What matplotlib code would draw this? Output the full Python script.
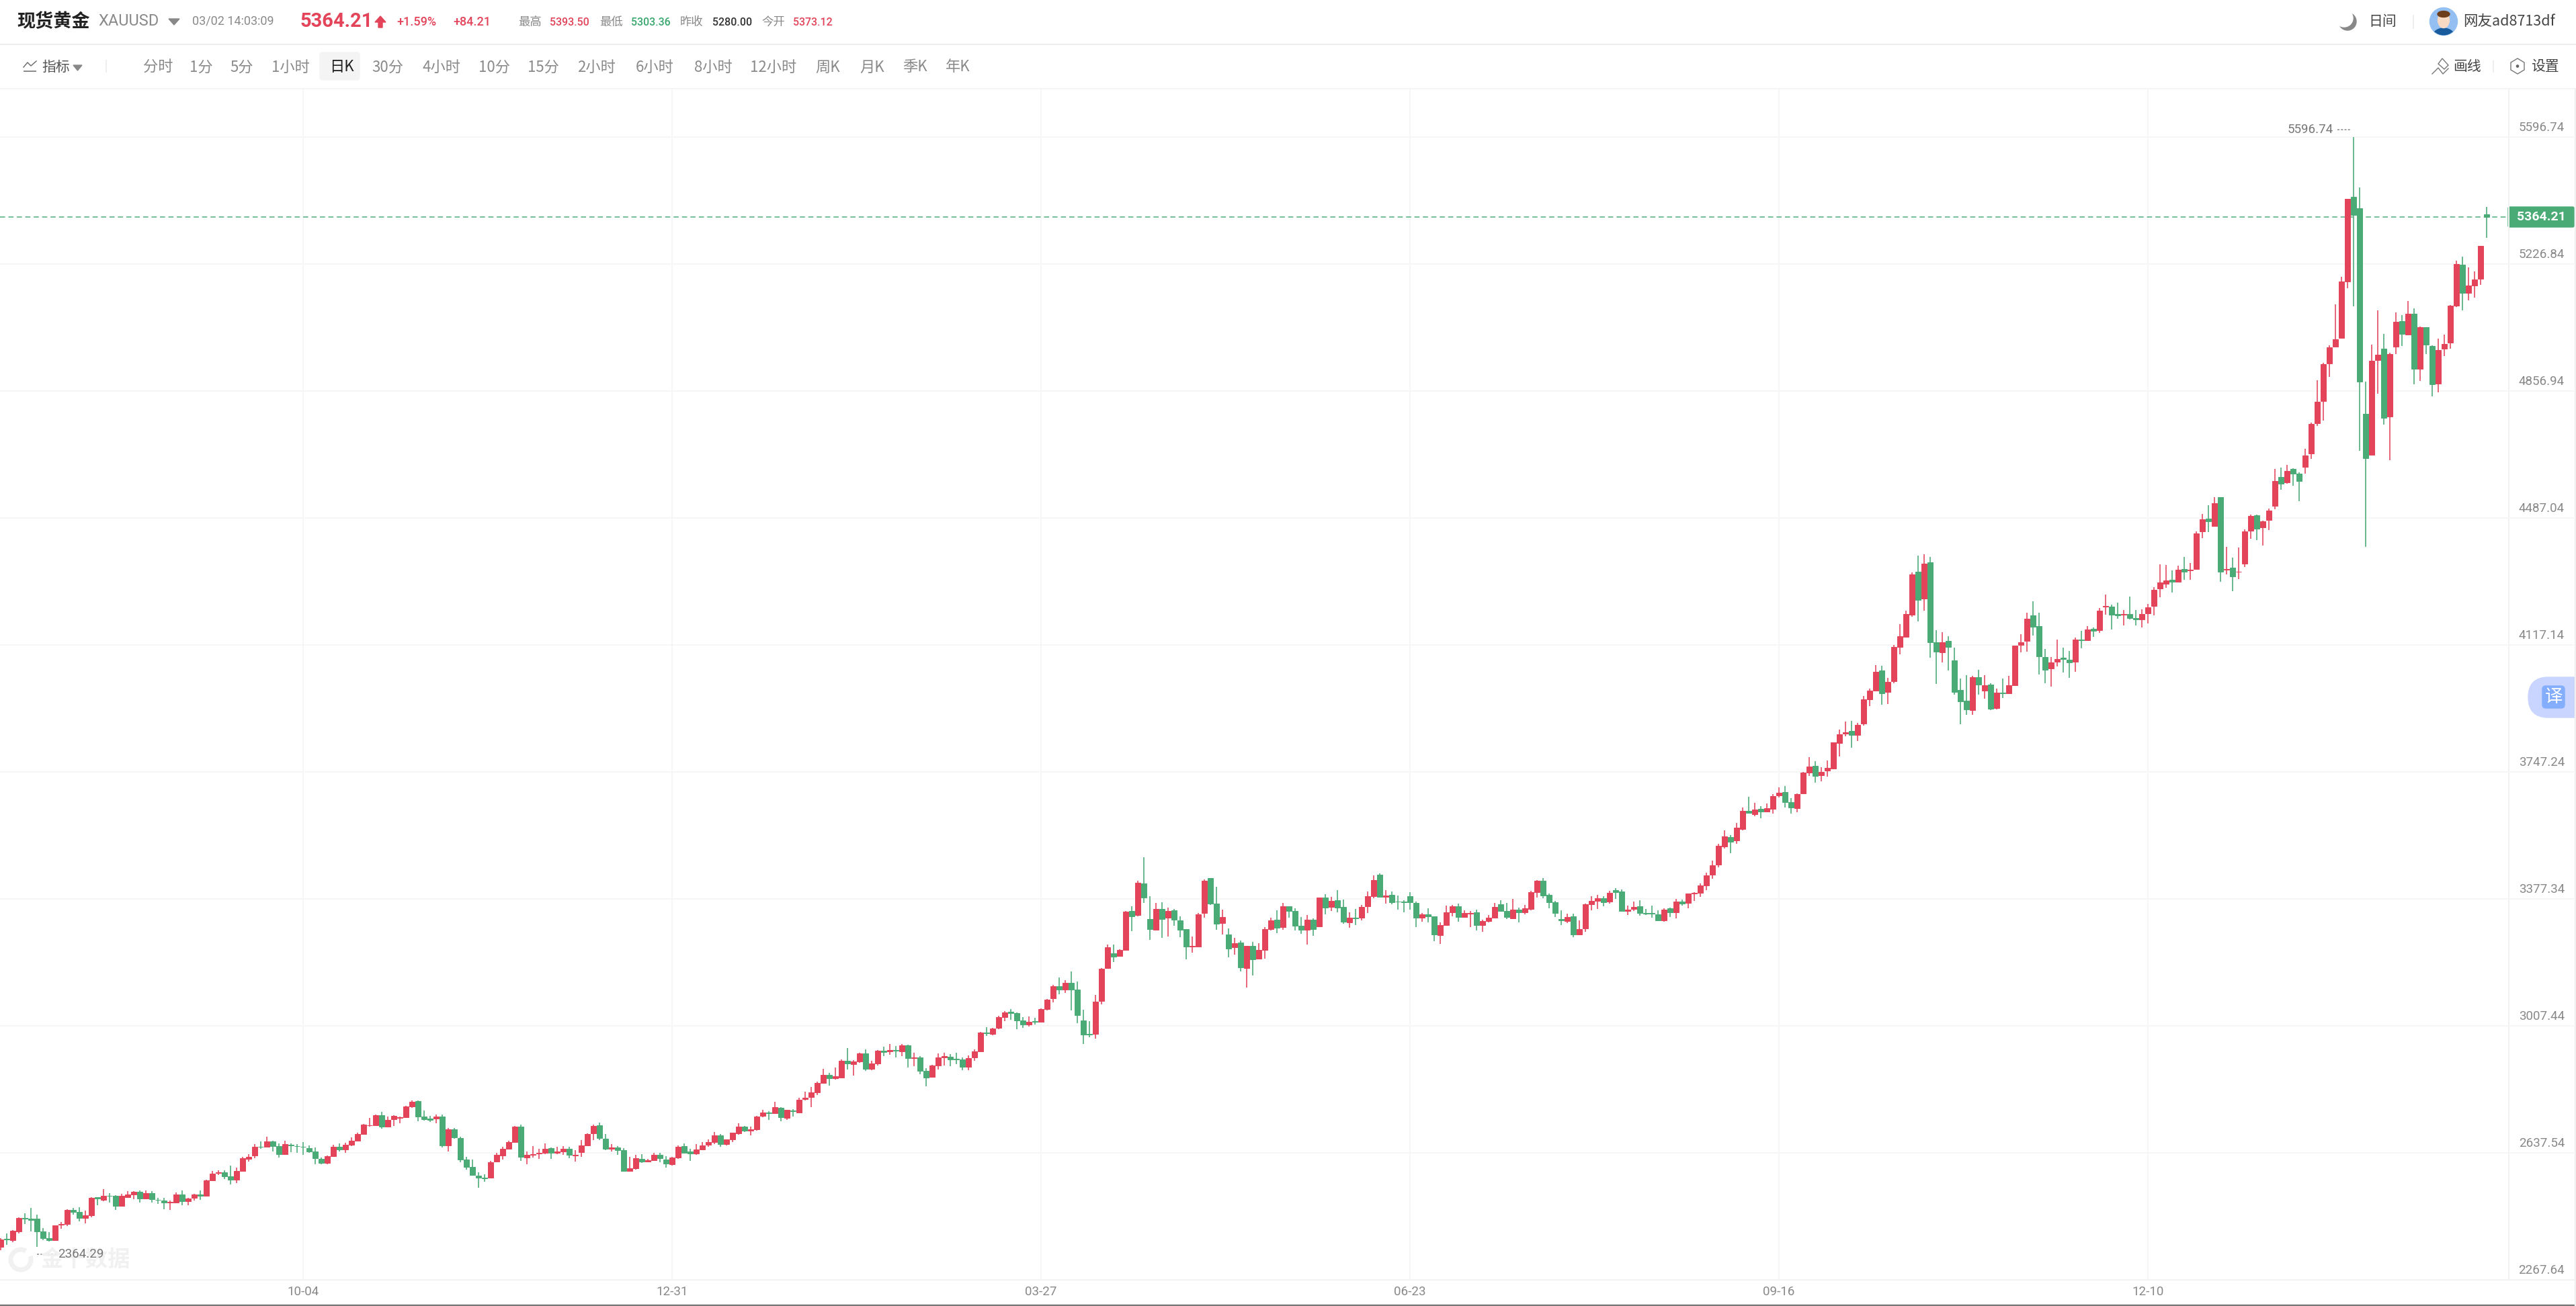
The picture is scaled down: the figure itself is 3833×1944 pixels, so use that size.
import matplotlib
matplotlib.use("Agg")
from matplotlib import pyplot as plt
from matplotlib.patches import Arc, Circle, Ellipse, FancyBboxPatch, Polygon, Rectangle

plt.rcParams['font.family'] = ['Noto Sans CJK SC', 'DejaVu Sans']

W, H = 3833, 1944

# daily candles (red = close above open)
opens = [
    2364,2387,2384,2410,2448,2446,2447,2409,2390,2383,
    2428,2430,2472,2465,2448,2456,2508,2502,2513,2512,
    2484,2508,2517,2524,2505,2520,2502,2499,2493,2494,
    2516,2497,2507,2516,2512,2558,2580,2581,2569,2559,
    2586,2621,2630,2656,2656,2671,2658,2634,2662,2658,
    2656,2652,2642,2621,2608,2628,2655,2648,2662,2673,
    2693,2718,2719,2748,2715,2736,2739,2742,2774,2788,
    2743,2737,2737,2744,2660,2706,2681,2619,2598,2572,
    2565,2565,2612,2631,2650,2669,2714,2625,2632,2637,
    2638,2652,2639,2643,2649,2630,2641,2660,2694,2718,
    2680,2649,2653,2645,2585,2594,2620,2613,2616,2632,
    2619,2605,2625,2658,2642,2637,2648,2661,2670,2689,
    2664,2677,2694,2714,2703,2707,2745,2756,2754,2769,
    2740,2762,2755,2794,2801,2814,2841,2866,2856,2857,
    2907,2897,2904,2928,2883,2898,2936,2933,2937,2934,
    2952,2914,2916,2877,2860,2892,2917,2918,2912,2911,
    2888,2916,2933,2989,2985,3002,3034,3049,3045,3023,
    3011,3021,3020,3056,3088,3124,3114,3133,3114,3023,
    2985,2984,3081,3177,3219,3212,3230,3343,3331,3423,
    3320,3288,3349,3324,3344,3315,3289,3238,3239,3337,
    3438,3364,3307,3275,3237,3250,3177,3240,3204,3229,
    3290,3317,3296,3356,3342,3300,3287,3318,3298,3382,
    3354,3374,3354,3310,3324,3324,3357,3386,3448,3384,
    3389,3371,3370,3385,3367,3324,3332,3327,3272,3302,
    3339,3356,3326,3335,3338,3301,3314,3324,3363,3343,
    3322,3347,3339,3349,3398,3431,3389,3368,3320,3314,
    3327,3275,3291,3363,3372,3380,3370,3404,3399,3343,
    3349,3357,3336,3337,3333,3316,3350,3338,3371,3366,
    3394,3395,3417,3449,3478,3531,3558,3548,3582,3635,
    3625,3641,3632,3641,3679,3690,3659,3643,3685,3746,
    3765,3738,3751,3758,3832,3859,3868,3856,3888,3960,
    3984,4043,3980,4013,4111,4142,4206,4332,4253,4358,
    4126,4097,4129,4072,3987,3955,3927,4023,3985,4002,
    3934,3978,3976,4000,4117,4130,4203,4172,4083,4049,
    4069,4080,4075,4069,4134,4132,4164,4160,4230,4229,
    4207,4205,4207,4196,4192,4210,4231,4283,4296,4307,
    4302,4338,4334,4338,4448,4486,4465,4548,4337,4342,
    4331,4354,4450,4495,4460,4482,4523,4607,4591,4631,
    4616,4637,4676,4763,4829,4937,4986,5012,5177,5424,
    5390,4791,4671,4947,4981,4784,4986,5061,5021,5083,
    4923,5043,4989,4880,4980,4998,5107,5226,5143,5164,
    5185,5373.12,
]
highs = [
    2390,2403,2413,2450,2462,2477,2458,2418,2407,2427,
    2436,2473,2477,2479,2469,2508,2509,2532,2520,2514,
    2518,2526,2526,2528,2529,2526,2507,2507,2500,2523,
    2529,2507,2518,2528,2559,2586,2588,2587,2600,2595,
    2626,2634,2663,2671,2685,2674,2665,2673,2665,2663,
    2669,2660,2653,2625,2631,2661,2666,2667,2684,2697,
    2722,2740,2749,2758,2743,2748,2744,2775,2790,2790,
    2762,2746,2750,2750,2710,2711,2685,2626,2618,2581,
    2575,2614,2639,2655,2673,2716,2721,2642,2658,2650,
    2666,2653,2656,2658,2655,2645,2676,2695,2720,2726,
    2693,2664,2658,2652,2626,2632,2634,2621,2639,2638,
    2628,2627,2660,2665,2649,2664,2669,2678,2698,2693,
    2678,2697,2724,2717,2714,2746,2763,2759,2786,2772,
    2764,2765,2798,2817,2829,2845,2882,2872,2887,2911,
    2943,2908,2929,2939,2906,2937,2947,2955,2949,2956,
    2953,2929,2920,2885,2894,2928,2930,2926,2930,2917,
    2922,2939,2990,3004,3002,3038,3051,3057,3047,3034,
    3035,3031,3059,3086,3127,3148,3142,3167,3137,3055,
    3022,3099,3176,3245,3245,3232,3343,3357,3430,3499,
    3386,3367,3369,3352,3348,3327,3289,3268,3337,3434,
    3438,3414,3347,3292,3265,3257,3241,3252,3249,3295,
    3324,3345,3366,3357,3350,3325,3330,3322,3382,3392,
    3384,3403,3376,3338,3348,3360,3399,3446,3452,3403,
    3399,3388,3374,3397,3370,3337,3350,3328,3309,3358,
    3360,3365,3344,3343,3346,3317,3330,3367,3374,3366,
    3377,3352,3360,3401,3433,3438,3393,3373,3344,3334,
    3334,3315,3364,3386,3390,3385,3401,3409,3405,3358,
    3370,3374,3349,3358,3345,3350,3352,3378,3376,3394,
    3398,3423,3454,3489,3539,3578,3563,3599,3645,3675,
    3657,3648,3655,3684,3702,3707,3672,3685,3748,3790,
    3779,3761,3782,3834,3871,3894,3896,3891,3969,3990,
    4059,4057,4022,4117,4179,4217,4330,4379,4381,4375,
    4160,4154,4144,4109,4019,4030,4027,4045,4030,4006,
    3990,4019,4027,4116,4149,4212,4244,4211,4106,4082,
    4133,4109,4100,4139,4159,4173,4169,4226,4265,4235,
    4241,4219,4259,4219,4221,4238,4286,4353,4350,4335,
    4348,4374,4356,4448,4499,4525,4549,4549,4403,4372,
    4401,4455,4497,4498,4480,4515,4630,4634,4642,4633,
    4620,4690,4765,4888,4940,4990,5110,5190,5418,5596.74,
    5451,4884,4992,5092,5024,4970,5087,5079,5119,5099,
    5045,5044,4991,5010,5022,5108,5237,5249,5217,5205,
    5280,5393.5,
]
lows = [
    2355,2370,2377,2404,2430,2410,2364.29,2383,2379,2381,
    2417,2424,2459,2438,2432,2451,2486,2497,2493,2471,
    2484,2507,2504,2493,2503,2493,2490,2473,2472,2493,
    2485,2486,2500,2501,2510,2557,2574,2561,2547,2551,
    2584,2613,2623,2649,2653,2642,2625,2632,2640,2639,
    2632,2638,2604,2605,2605,2627,2643,2638,2658,2672,
    2692,2714,2718,2709,2714,2716,2724,2739,2770,2731,
    2733,2729,2725,2653,2643,2680,2610,2589,2572,2536,
    2554,2564,2610,2619,2649,2668,2615,2605,2625,2621,
    2634,2621,2634,2632,2623,2613,2626,2658,2675,2675,
    2646,2643,2632,2584,2583,2589,2608,2610,2615,2611,
    2595,2601,2621,2636,2614,2633,2645,2655,2664,2656,
    2659,2669,2690,2699,2689,2703,2741,2735,2753,2730,
    2735,2744,2754,2791,2771,2807,2839,2834,2852,2855,
    2881,2863,2900,2877,2878,2892,2919,2924,2916,2920,
    2887,2890,2867,2832,2858,2881,2893,2891,2896,2879,
    2879,2906,2931,2978,2981,2998,3022,3025,2998,3002,
    3007,3012,3017,3053,3077,3100,3104,3053,3015,2956,
    2974,2970,3071,3175,3193,3210,3229,3284,3328,3366,
    3259,3287,3265,3268,3299,3267,3202,3222,3238,3323,
    3360,3288,3275,3208,3215,3167,3120,3154,3202,3204,
    3285,3279,3287,3323,3285,3277,3245,3270,3295,3333,
    3343,3339,3306,3293,3302,3315,3337,3379,3382,3365,
    3362,3347,3339,3347,3295,3311,3309,3255,3247,3300,
    3327,3311,3324,3296,3286,3282,3309,3322,3340,3319,
    3320,3309,3332,3345,3382,3380,3351,3325,3302,3308,
    3267,3273,3282,3345,3349,3357,3364,3378,3341,3330,
    3342,3329,3331,3323,3313,3311,3325,3321,3359,3351,
    3373,3384,3403,3437,3470,3525,3511,3539,3577,3626,
    3619,3613,3630,3626,3673,3645,3627,3631,3684,3736,
    3716,3721,3734,3758,3793,3852,3818,3837,3883,3939,
    3982,3943,3946,4007,4090,4140,4199,4186,4218,4081,
    4005,4066,4044,3972,3886,3915,3915,3972,3961,3928,
    3929,3963,3974,3999,4097,4098,4145,4032,4006,3997,
    4055,4038,4022,4040,4108,4130,4141,4153,4205,4163,
    4194,4175,4192,4175,4169,4181,4204,4257,4284,4270,
    4301,4308,4308,4337,4429,4447,4464,4302,4323,4274,
    4310,4345,4427,4424,4408,4453,4514,4570,4588,4581,
    4537,4616,4659,4756,4772,4899,4986,5011,5157,5105,
    4683,4402.5,4670,4850,4759,4655,4965,4988,5019,4878,
    4887,4965,4842,4853,4960,4981,5102,5092,5121,5130,
    5166,5303.36,
]
closes = [
    2386,2385,2411,2448,2447,2442,2409,2390,2383,2426,
    2431,2472,2465,2448,2456,2507,2505,2513,2512,2484,
    2512,2517,2524,2505,2520,2503,2501,2493,2495,2516,
    2498,2505,2516,2512,2558,2578,2582,2570,2559,2586,
    2622,2627,2655,2655,2671,2658,2634,2663,2659,2657,
    2655,2642,2622,2608,2629,2656,2648,2662,2673,2692,
    2721,2719,2748,2715,2735,2746,2742,2774,2786,2744,
    2736,2735,2744,2659,2707,2684,2619,2598,2573,2565,
    2563,2611,2632,2649,2669,2714,2626,2632,2635,2638,
    2649,2639,2643,2649,2632,2632,2660,2693,2716,2681,
    2649,2653,2646,2585,2593,2622,2613,2617,2633,2623,
    2606,2625,2656,2639,2637,2647,2660,2669,2689,2664,
    2677,2696,2714,2703,2707,2744,2755,2754,2771,2741,
    2763,2759,2792,2798,2814,2842,2866,2856,2861,2907,
    2898,2904,2928,2883,2898,2935,2932,2938,2936,2952,
    2915,2916,2877,2858,2892,2917,2919,2911,2911,2888,
    2915,2933,2988,2986,3001,3034,3047,3045,3023,3012,
    3020,3019,3056,3084,3124,3114,3133,3114,3039,2983,
    2983,3079,3175,3237,3210,3229,3341,3328,3424,3382,
    3289,3348,3319,3343,3317,3288,3238,3240,3333,3430,
    3364,3306,3326,3234,3249,3178,3240,3202,3229,3289,
    3315,3294,3356,3342,3300,3287,3317,3289,3381,3353,
    3373,3352,3312,3324,3322,3354,3385,3432,3384,3388,
    3368,3370,3369,3369,3323,3332,3328,3274,3302,3338,
    3356,3326,3336,3337,3302,3313,3323,3354,3342,3325,
    3346,3339,3350,3397,3431,3387,3368,3337,3315,3325,
    3275,3289,3362,3373,3380,3369,3396,3398,3342,3347,
    3355,3336,3335,3334,3315,3347,3338,3371,3365,3393,
    3396,3417,3447,3475,3533,3559,3545,3585,3634,3628,
    3639,3633,3642,3678,3688,3659,3644,3684,3746,3763,
    3736,3748,3759,3833,3857,3864,3856,3885,3960,3985,
    4040,3976,4010,4111,4143,4208,4323,4248,4355,4126,
    4098,4125,4112,3981,3953,3929,4024,4003,4000,3932,
    3978,3977,4000,4115,4126,4194,4171,4085,4046,4067,
    4077,4077,4066,4133,4131,4163,4158,4217,4231,4206,
    4203,4208,4196,4192,4208,4227,4279,4299,4305,4302,
    4337,4332,4337,4443,4484,4478,4531,4331,4339,4318,
    4332,4448,4493,4456,4477,4509,4595,4587,4625,4616,
    4596,4670,4762,4827,4936,4985,5008,5177,5417,5371,
    4884,4661,4945,4964,4780,4965,5059,5023,5083,4923,
    5043,4992,4878,4976,4994,5107,5227,5144,5164,5183,
    5280,5364.21,
]

price_levels = [5596.74, 5226.84, 4856.94, 4487.04, 4117.14, 3747.24, 3377.34, 3007.44, 2637.54, 2267.64]
date_positions = [50, 111, 172, 233, 294, 355]
date_labels = ['10-04', '12-31', '03-27', '06-23', '09-16', '12-10']
last_price = 5364.21
max_index, max_price = 389, 5596.74
min_index, min_price = 6, 2364.29

quote_items = [('最高', 771, '5393.50', 818, '#e2445a'), ('最低', 892, '5303.36', 939, '#3aa76d'),
               ('昨收', 1012, '5280.00', 1060, '#333333'), ('今开', 1133, '5373.12', 1180, '#e2445a')]
periods = [('分时', 235), ('1分', 299), ('5分', 360), ('1小时', 432), ('日K', 508), ('30分', 577),
           ('4小时', 657), ('10分', 736), ('15分', 808), ('2小时', 888), ('6小时', 974), ('8小时', 1061),
           ('12小时', 1151), ('周K', 1232), ('月K', 1298), ('季K', 1361), ('年K', 1425)]

RED, GREEN = '#e34459', '#4aab76'
RED_WICK, GREEN_WICK = '#e9697c', '#6dba90'
GRID = '#f6f6f6'
NUM_FONT = ['Roboto', 'DejaVu Sans']

fig = plt.figure(figsize=(W / 100, H / 100), dpi=100, facecolor='white')

# page furniture in pixel coordinates, below the chart
ui = fig.add_axes([0, 0, 1, 1], zorder=0)
ui.set_xlim(0, W)
ui.set_ylim(H, 0)
ui.axis('off')


def label(x, y, s, size, color, ha='left', weight='normal', family=None):
    ui.text(x, y, s, fontsize=size, color=color, ha=ha, va='center', fontweight=weight,
            family=family or plt.rcParams['font.family'])


def line(xs, ys, color, lw=1.5, **kw):
    ui.plot(xs, ys, color=color, lw=lw * 0.72, solid_capstyle='butt', **kw)


line([0, W], [65.7, 65.7], '#ececec', 2)
line([0, W], [131.7, 131.7], '#f5f5f5', 2)
line([3732.6, 3732.6], [132, 1905], '#f2f2f2', 2)
line([0, W], [1905.3, 1905.3], '#f0f0f0', 2)
line([0, W], [1943, 1943], '#777777', 2.5)

# header row
label(25, 32, '现货黄金', 19.5, '#222222', weight='bold')
label(146, 32, 'XAUUSD', 17, '#8a8a8a', family=NUM_FONT)
ui.add_patch(Polygon([(251, 28), (267, 28), (259, 37)], color='#888888'))
label(286, 31, '03/02 14:03:09', 13, '#8a8a8a', family=NUM_FONT)
label(446, 32, '5364.21', 21, RED, weight='bold', family=NUM_FONT)
ui.add_patch(Polygon([(566, 24), (574, 33), (569, 33), (569, 41), (563, 41), (563, 33), (558, 33)], color=RED))
label(590, 33, '+1.59%', 13, RED, family=NUM_FONT, weight='medium')
label(674, 33, '+84.21', 13, RED, family=NUM_FONT, weight='medium')
for name, name_x, value, value_x, color in quote_items:
    label(name_x, 33, name, 12.5, '#888888')
    label(value_x, 33, value, 11.5, color, family=NUM_FONT, weight='medium')

label(3524, 32, '日间', 15, '#444444')
ui.add_patch(Circle((3493, 32), 13, color='#888888'))
ui.add_patch(Circle((3488, 27), 13, color='white'))
line([3591, 3591], [22, 43], '#eeeeee', 2)
avatar = Circle((3636, 32), 20.5, color='#93bff2')
ui.add_patch(avatar)
for part in [Ellipse((3636, 56), 34, 28, color='#185c9e'),
             Ellipse((3636, 30), 17, 23, color='#f7d9c4'),
             Ellipse((3636, 21), 18, 9, color='#6e3d1c')]:
    ui.add_patch(part)
    part.set_clip_path(avatar)
label(3665, 32, '网友ad8713df', 15.5, '#444444')

# toolbar row
ui.plot([35, 41, 46, 54], [100, 93, 98, 91], color='#666666', lw=1)
line([35, 54], [106, 106], '#666666', 1.5)
label(62, 100, '指标', 15, '#555555')
ui.add_patch(Polygon([(109, 97), (122, 97), (115.5, 105)], color='#888888'))
line([157.5, 157.5], [89, 108], '#eeeeee', 2)
ui.add_patch(FancyBboxPatch((479, 81), 53, 35, boxstyle='round,pad=3,rounding_size=4', color='#f4f4f4'))
for name, x in periods:
    label(x, 100, name, 16, '#222222' if name == '日K' else '#8a8a8a', ha='center')

ui.plot([3619, 3628, 3635, 3643], [110, 101, 110, 102], color='#777777', lw=1)
ui.add_patch(Polygon([(3628, 95), (3634, 87), (3643, 97), (3637, 103)], fill=False, ec='#777777', lw=1))
label(3650, 99, '画线', 15, '#444444')
line([3710, 3710], [90, 108], '#eeeeee', 2)
ui.add_patch(Polygon([(3746, 87), (3756, 93), (3756, 104), (3746, 110), (3736, 104), (3736, 93)],
                     fill=False, ec='#777777', lw=1))
ui.add_patch(Circle((3746, 98.5), 1.6, color='#666666'))
label(3766, 99, '设置', 15, '#444444')

# watermark
ui.add_patch(Arc((31, 1875), 30, 30, theta1=-20, theta2=300, color='#f1f1f1', lw=5))
label(60, 1875, '金十数据', 24, '#f1f1f1', weight='bold')

# last price tag and translate tab
ui.add_patch(FancyBboxPatch((3734, 310), 94, 26, boxstyle='round,pad=2,rounding_size=2', color=GREEN))
label(3781, 322.5, '5364.21', 14, 'white', ha='center', weight='bold', family=NUM_FONT)
ui.add_patch(FancyBboxPatch((3762, 1008), 120, 60, boxstyle='round,pad=0,rounding_size=30', color='#c9d4ff'))
ui.add_patch(FancyBboxPatch((3785, 1023), 29, 29, boxstyle='round,pad=2,rounding_size=5', color='#84aefc'))
label(3799.5, 1037, '译', 19, 'white', ha='center')
ui.add_patch(Rectangle((3831, 132), 2, H - 132, color='#f0f0f0', zorder=5))

# price chart: 9 px per candle, 369.9 per 189 px
bottom_px, top_px = 1905.3, 132
ax = fig.add_axes([0, (H - bottom_px) / H, 3830 / W, (bottom_px - top_px) / H], zorder=1)
ax.set_xlim(-1 / 9, 3829 / 9)
ax.set_ylim(2267.64, 5596.74 + (204.3 - top_px) * 369.9 / 189)
ax.axis('off')

ax.hlines(price_levels, -1 / 9, 3829 / 9, color=GRID, lw=1.3, zorder=1)
ax.vlines(date_positions, 2267.64, ax.get_ylim()[1], color=GRID, lw=1.3, zorder=1)
ax.hlines(last_price, -1 / 9, 3731 / 9, color='#4fae7f', lw=1.1, linestyles=(0, (5, 3.2)), zorder=1.5)

xs = list(range(len(opens)))
wick_colors = [RED_WICK if c >= o else GREEN_WICK for o, c in zip(opens, closes)]
body_colors = [RED if c >= o else GREEN for o, c in zip(opens, closes)]
ax.vlines(xs, lows, highs, colors=wick_colors, lw=1.44, zorder=2)
ax.bar(xs, [abs(c - o) for o, c in zip(opens, closes)], bottom=[min(o, c) for o, c in zip(opens, closes)],
       width=0.78, color=body_colors, edgecolor=body_colors, lw=0.7, zorder=3)

for level in price_levels:
    ax.annotate(f'{level:.2f}', xy=(420.1, level), xytext=(0, 10), textcoords='offset points',
                ha='center', va='center', fontsize=13.5, color='#888888', family=NUM_FONT)
for pos, text in zip(date_positions, date_labels):
    ax.annotate(text, xy=(pos, 2267.64), xytext=(0, -13), textcoords='offset points',
                ha='center', va='center', fontsize=13.5, color='#888888', family=NUM_FONT)

ax.annotate(f'{max_price:.2f}', xy=(max_index, max_price), xytext=(-21.6, 8.2), textcoords='offset points',
            ha='right', va='center', fontsize=13.5, color='#777777', family=NUM_FONT)
line([3478, 3499], [192.7, 192.7], '#888888', 1.5, ls=(0, (2, 1.5)))
ax.annotate(f'{min_price:.2f}', xy=(min_index, min_price), xytext=(22.3, -7.7), textcoords='offset points',
            ha='left', va='center', fontsize=13.5, color='#777777', family=NUM_FONT)
line([55, 84], [1866.7, 1866.7], '#888888', 1.5, ls=(0, (2, 1.5)))

fig.savefig('out.png', dpi=100)
